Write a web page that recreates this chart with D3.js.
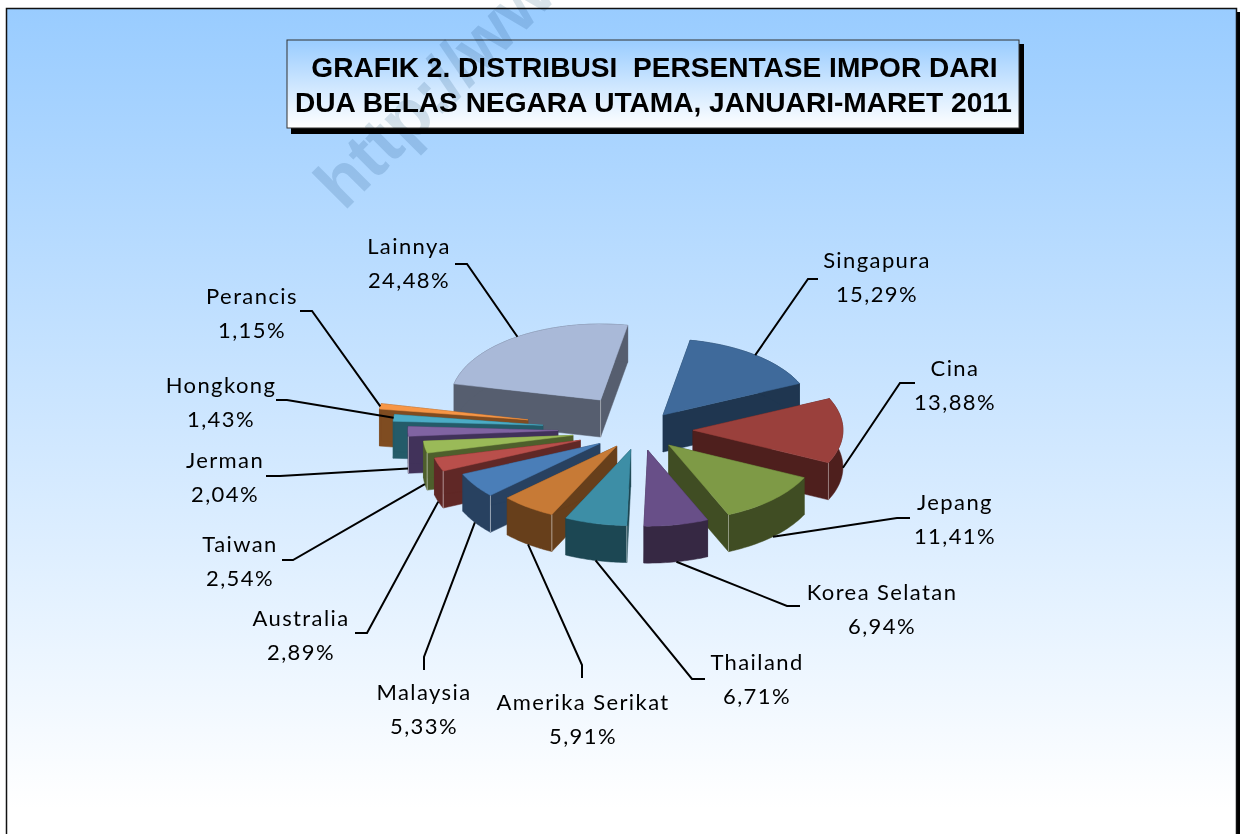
<!DOCTYPE html>
<html><head><meta charset="utf-8">
<script src="https://cdn.jsdelivr.net/npm/d3@7/dist/d3.min.js"></script>
<style>html,body{margin:0;padding:0;background:#fff;overflow:hidden}svg{display:block}</style>
</head><body><svg id="c" width="1240" height="834"></svg>
<script>
const countries=["Singapura","Cina","Jepang","Korea Selatan","Thailand","Amerika Serikat","Malaysia","Australia","Taiwan","Jerman","Hongkong","Perancis","Lainnya"];
const shares=[15.29,13.88,11.41,6.94,6.71,5.91,5.33,2.89,2.54,2.04,1.43,1.15,24.48];
const shareLabels=["15,29%","13,88%","11,41%","6,94%","6,71%","5,91%","5,33%","2,89%","2,54%","2,04%","1,43%","1,15%","24,48%"];
const explosion=[.25,.353,.275,.27,.265,.262,.32,.42,.452,.547,.65,.759,.474];
const topColors=["#3f6a9b","#9a403c","#7e9a46","#684f88","#3d8ea6","#c77a36","#4a7eb8","#b94f4b","#9aba58","#8064a2","#4bacc6","#f79646","#a9b9d8"];
const wallColors=["#1f3650","#4e1f1d","#404d23","#362843","#1c4753","#673f1b","#284160","#602826","#4e5f2c","#41325a","#245b69","#7f4c21","#565e6f"];
const titleLines=["GRAFIK 2. DISTRIBUSI  PERSENTASE IMPOR DARI","DUA BELAS NEGARA UTAMA, JANUARI-MARET 2011"];
/* leader elbow, leader end, label centre (layout, not data) */
const labelLayout=[
 [808,279,818,279,877,261],[900,383,915,383,955,369],[897,518,910,518,955,503],[787,606,800,606,882,593],
 [692,679,705,679,757,663],[582,665,582,678,583,703],[424,657,424,670,424,693],[367,633,355,633,301,619],
 [293,560,282,560,240,545],[280,476,266,476,225,461],[287,400,276,400,221,386],[312,311,300,311,252,297],[467,264,455,264,409,247]];

const W=1240,H=834,cx=640,cy=430,rx=150,ry=76,depth=37;
const svg=d3.select("#c");
const defs=svg.append("defs");
const grad=(id,stops)=>{const g=defs.append("linearGradient").attr("id",id).attr("x1",0).attr("x2",0).attr("y1",0).attr("y2",1);
 stops.forEach(s=>g.append("stop").attr("offset",s[0]).attr("stop-color",s[1]));};
grad("bg",[[0,"#99ccff"],[1,"#ffffff"]]);
grad("tb",[[0,"#99ccff"],[1,"#ffffff"]]);

svg.append("rect").attr("x",1236).attr("y",12).attr("width",4).attr("height",H).attr("fill","#000");
svg.append("rect").attr("x",6.5).attr("y",8.5).attr("width",1230).attr("height",800).attr("fill","url(#bg)");
svg.append("path").attr("d","M6.5 834V8.5H1236.5V834").attr("fill","none").attr("stroke","#111").attr("stroke-width",1.5);

// title box
svg.append("rect").attr("x",291).attr("y",44).attr("width",733).attr("height",90).attr("fill","#000");
svg.append("rect").attr("x",287).attr("y",40).attr("width",732).attr("height",88).attr("fill","url(#tb)").attr("stroke","#333").attr("stroke-width",1);
svg.selectAll("text.title").data(titleLines).join("text").attr("class","title")
 .attr("x",(d,i)=>i?653.5:654.5).attr("y",(d,i)=>77+i*35).attr("text-anchor","middle")
 .attr("font-family","Liberation Sans").attr("font-weight","bold").attr("font-size",28.1).attr("xml:space","preserve").style("white-space","pre").attr("fill","#000").text(d=>d);

// pie geometry
const pie=d3.pie().sort(null).startAngle(10.4*Math.PI/180).endAngle(10.4*Math.PI/180+2*Math.PI);
const arcs=pie(shares).map((a,i)=>{
 const mid=(a.startAngle+a.endAngle)/2;
 const apex=[cx+explosion[i]*rx*Math.sin(mid),cy-explosion[i]*ry*Math.cos(mid)];
 const at=t=>[apex[0]+rx*Math.sin(t),apex[1]-ry*Math.cos(t)];
 const rim=d3.range(0,25).map(k=>at(a.startAngle+(a.endAngle-a.startAngle)*k/24));
 return {i,a,mid,apex,at,rim};
});
const line=d3.line();
const down=p=>[p[0],p[1]+depth];
const order=arcs.slice().sort((p,q)=>p.apex[1]-q.apex[1]);
const gs=svg.append("g").selectAll("g").data(order).join("g");
gs.each(function(d){
 const g=d3.select(this),wc=wallColors[d.i];
 const s=d.rim[0],e=d.rim[24];
 const poly=pts=>g.append("path").attr("d",line(pts)+"Z").attr("fill",wc).attr("stroke",wc).attr("stroke-width",.5);
 poly([d.apex,s,down(s),down(d.apex)]);
 poly([d.apex,e,down(e),down(d.apex)]);
 poly(d.rim.concat(d.rim.slice().reverse().map(down)));
 const edge=(p,o)=>g.append("line").attr("x1",p[0]).attr("y1",p[1]).attr("x2",p[0]).attr("y2",p[1]+depth).attr("stroke","#fff").attr("stroke-opacity",o).attr("stroke-width",1);
 if(Math.cos(d.a.endAngle)<0&&Math.sin(d.a.endAngle)>0) edge(e,.4);
 if(Math.cos(d.a.startAngle)<0&&Math.sin(d.a.startAngle)<0) edge(s,.5);
 if(d.i===12) edge(d.apex,.4);
 g.append("path").attr("d",line([d.apex].concat(d.rim))+"Z").attr("fill",topColors[d.i]).attr("stroke",topColors[d.i]).attr("stroke-width",.5);
});

// leaders and labels
const leaders=svg.append("g");
arcs.forEach(d=>{
 const L=labelLayout[d.i],m=d.at(d.mid);
 const st=Math.cos(d.mid)<0?down(m):m;
 leaders.append("path").attr("d",line([st,[L[0],L[1]],[L[2],L[3]]])).attr("fill","none").attr("stroke","#000").attr("stroke-width",2);
 const t=svg.append("text").attr("text-anchor","middle").attr("font-family","Lato").attr("font-size",22).attr("letter-spacing",1.4).attr("fill","#000");
 t.append("tspan").attr("x",L[4]).attr("y",L[5]+7).text(countries[d.i]);
 t.append("tspan").attr("x",L[4]).attr("y",L[5]+41).text(shareLabels[d.i]);
});

// watermark
svg.append("text").attr("transform","translate(344,212) rotate(-45)").attr("font-family","Liberation Sans").attr("font-weight","bold").attr("font-size",70)
 .attr("fill","#d9e3e9").style("mix-blend-mode","multiply").text("http://www");
</script></body></html>
